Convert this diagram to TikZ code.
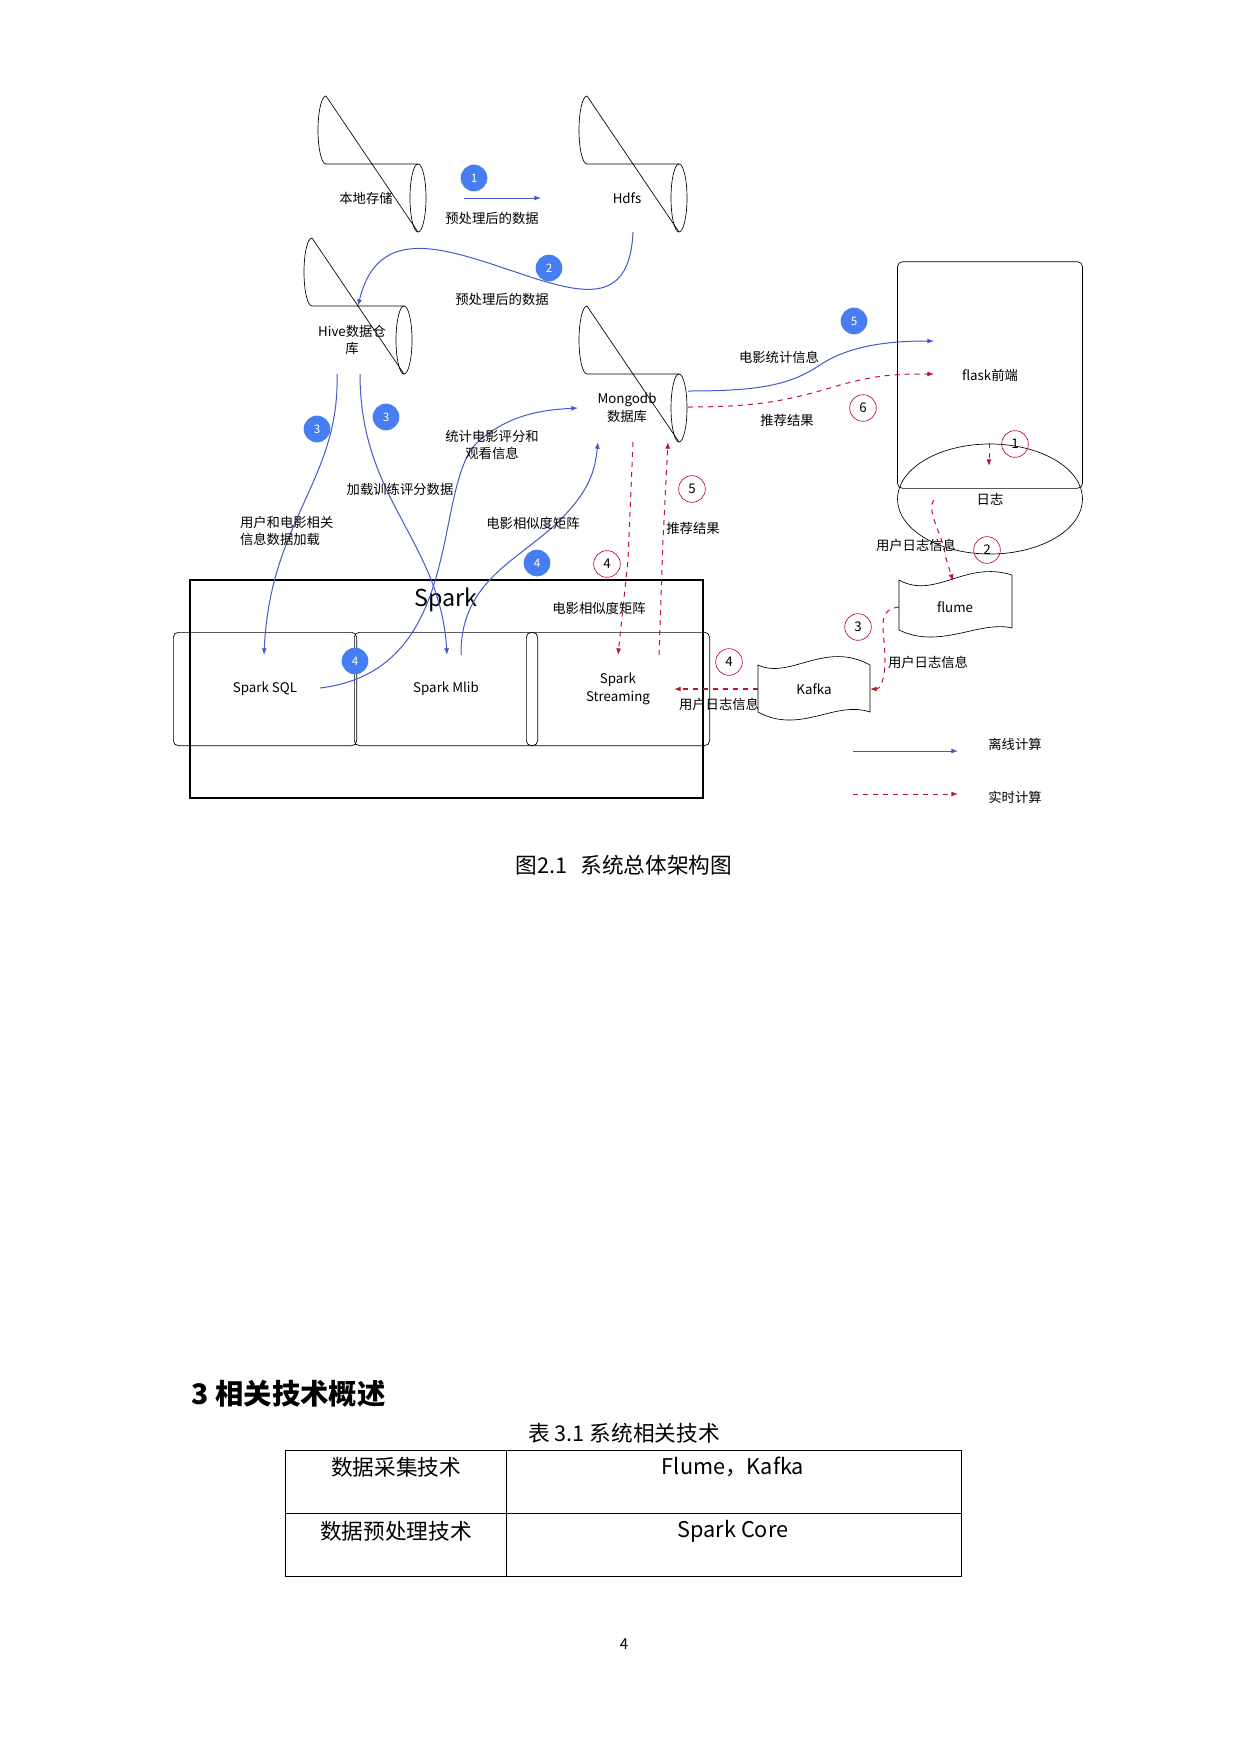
\documentclass[tikz,border=0pt]{standalone}
\usepackage{fontspec}
\setmainfont{Noto Sans CJK SC}
\usetikzlibrary{arrows.meta,shapes.geometric}
\definecolor{lb}{RGB}{68,90,200}
\definecolor{rd}{RGB}{190,20,40}
\definecolor{bb}{RGB}{70,125,240}
\newcommand\mycyl[3]{% name cx cy
 \node[draw=none,minimum width=110,minimum height=68,align=center,font=\fontsize{8}{11}\selectfont] (#1) at (#2,#3) {};
 \draw (#2+46,#3-34) -- (#2-46,#3-34) arc[start angle=90,end angle=270,x radius=8,y radius=34] -- (#2+46,#3+34);
 \draw (#2+46,#3) ellipse[x radius=8,y radius=34];}
\begin{document}
\begin{tikzpicture}[x=0.6pt,y=-0.6pt,
 bl/.style={lb,-{Latex[length=4,width=3]},semithick},
 rl/.style={rd,dashed,-{Latex[length=4,width=3]},semithick},
 bbad/.style={circle,fill=bb,text=white,minimum size=16pt,inner sep=0,font=\fontsize{7}{8}\selectfont},
 rbad/.style={circle,draw=rd,minimum size=16pt,inner sep=0,font=\fontsize{8}{9}\selectfont},
 lab/.style={font=\fontsize{8}{10.5}\selectfont,inner sep=1,align=center},
 box/.style={draw,rounded corners=3,minimum width=110,minimum height=68,align=center,font=\fontsize{8}{11}\selectfont}]
\useasboundingbox (0,0) rectangle (1240,1754);
\fill[white] (0,0) rectangle (1240,1754);
% cylinders
\mycyl{loc}{372}{198}\node[lab] at (366,198) {本地存储};
\mycyl{hdfs}{633}{198}\node[lab] at (627,198) {Hdfs};
\mycyl{hive}{358}{340}\node[lab] at (352,340) {Hive数据仓\\库};
\mycyl{mongo}{633}{408}\node[lab] at (627,408) {Mongodb\\数据库};
% spark box
\draw[thick] (190,580) rectangle (703,798);
\node[font=\fontsize{14}{16}\selectfont] (sparklbl) at (446,600) {Spark};
\node[box] (sql) at (265,689) {Spark SQL};
\node[box] (mlib) at (446,689) {Spark Mlib};
\node[box] (ss) at (618,689) {Spark\\Streaming};
\node[draw,rounded corners=3,minimum width=111,minimum height=136,font=\fontsize{8}{11}\selectfont] (flask) at (990,375) {flask前端};
\node[draw,ellipse,minimum width=111,minimum height=66,font=\fontsize{8}{11}\selectfont] (log) at (990,499) {日志};
% wave shapes
\draw (899,580) .. controls (935,600) and (965,560) .. (1012,575) -- (1012,628) .. controls (980,620) and (940,650) .. (899,630) -- cycle;
\node[font=\fontsize{8}{11}\selectfont] (flume) at (955,607) {flume};
\draw (758,665) .. controls (790,680) and (825,640) .. (870,665) -- (870,712) .. controls (835,700) and (800,735) .. (758,712) -- cycle;
\node[font=\fontsize{8}{11}\selectfont] (kafka) at (814,689) {Kafka};
% blue connectors
\draw[bl] (loc.east) -- (hdfs.west);
\draw[bl] (633,232) .. controls (630,300) and (590,295) .. (540,280) .. controls (460,255) and (380,215) .. (358,306);
\draw[bl] (337,374) .. controls (340,480) and (270,520) .. (264,655);
\draw[bl] (360,374) .. controls (360,500) and (440,540) .. (447,655);
\draw[bl] (320,688) .. controls (470,670) and (430,480) .. (480,440) .. controls (510,415) and (540,410) .. (578,408);
\draw[bl] (461,655) .. controls (460,580) and (520,560) .. (560,520) .. controls (590,490) and (595,470) .. (598,442);
\draw[bl] (688,391) .. controls (760,391) and (790,385) .. (820,365) .. controls (850,345) and (890,341) .. (934,341);
% red connectors
\draw[rl] (688,407) .. controls (760,407) and (790,400) .. (840,385) .. controls (880,374) and (900,374) .. (934,374);
\draw[rl] (633,442) -- (628,560) -- (618,655);
\draw[rl] (659,655) -- (663,540) -- (668,442);
\draw[rl] (989,443) -- (989,466);
\draw[rl] (934,500) .. controls (925,510) and (945,540) .. (945,555) -- (953,581);
\draw[rl] (899,607) .. controls (875,610) and (885,630) .. (885,660) .. controls (885,680) and (880,689) .. (870,689);
\draw[rd,dashed,thick,-{Latex[length=4,width=3]}] (758,689) -- (674,689);
% badges
\node[bbad] at (474,178) {1};
\node[bbad] at (549,268) {2};
\node[bbad] at (317,429) {3};
\node[bbad] at (386,417) {3};
\node[bbad] at (537,563) {4};
\node[bbad] at (355,661) {4};
\node[bbad] at (854,321) {5};
\node[rbad] at (1015,444) {1};
\node[rbad] at (987,550) {2};
\node[rbad] at (858,627) {3};
\node[rbad] at (729,662) {4};
\node[rbad] at (607,564) {4};
\node[rbad] at (692,489) {5};
\node[rbad] at (863,408) {6};
% labels
\node[lab] at (492,218) {预处理后的数据};
\node[lab] at (502,299) {预处理后的数据};
\node[lab] at (779,357) {电影统计信息};
\node[lab] at (787,420) {推荐结果};
\node[lab] at (492,445) {统计电影评分和\\观看信息};
\node[lab] at (400,489) {加载训练评分数据};
\node[lab,align=left,anchor=west] at (238,531) {用户和电影相关\\信息数据加载};
\node[lab] at (533,523) {电影相似度矩阵};
\node[lab] at (693,528) {推荐结果};
\node[lab] at (916,545) {用户日志信息};
\node[lab] at (599,608) {电影相似度矩阵};
\node[lab] at (928,662) {用户日志信息};
\node[lab] at (719,704) {用户日志信息};
% legend
\coordinate (l1) at (853,751); \coordinate (l2) at (958,751);
\draw[bl] (l1) -- (l2);
\coordinate (l3) at (853,794); \coordinate (l4) at (958,794);
\draw[rl,semithick] (l3) -- (l4);
\node[lab] at (1015,744) {离线计算};
\node[lab] at (1015,797) {实时计算};
% caption and text
\node[font=\fontsize{13}{15}\selectfont] at (624,865) {图2.1\hspace{0.6em}系统总体架构图};
\node[font=\fontsize{17}{19}\selectfont\bfseries,anchor=west] at (186,1394) {3 相关技术概述};
\node[font=\fontsize{13}{15}\selectfont] at (624,1433) {表 3.1 系统相关技术};
\draw (285,1450) rectangle (961,1576);
\draw (285,1513) -- (961,1513);
\draw (506,1450) -- (506,1576);
\node[font=\fontsize{13}{15}\selectfont] at (396,1467) {数据采集技术};
\node[font=\fontsize{13}{15}\selectfont] at (733,1467) {Flume，Kafka};
\node[font=\fontsize{13}{15}\selectfont] at (396,1531) {数据预处理技术};
\node[font=\fontsize{13}{15}\selectfont] at (733,1531) {Spark Core};
\node[font=\fontsize{9}{11}\selectfont] at (624,1644) {4};
\end{tikzpicture}
\end{document}
